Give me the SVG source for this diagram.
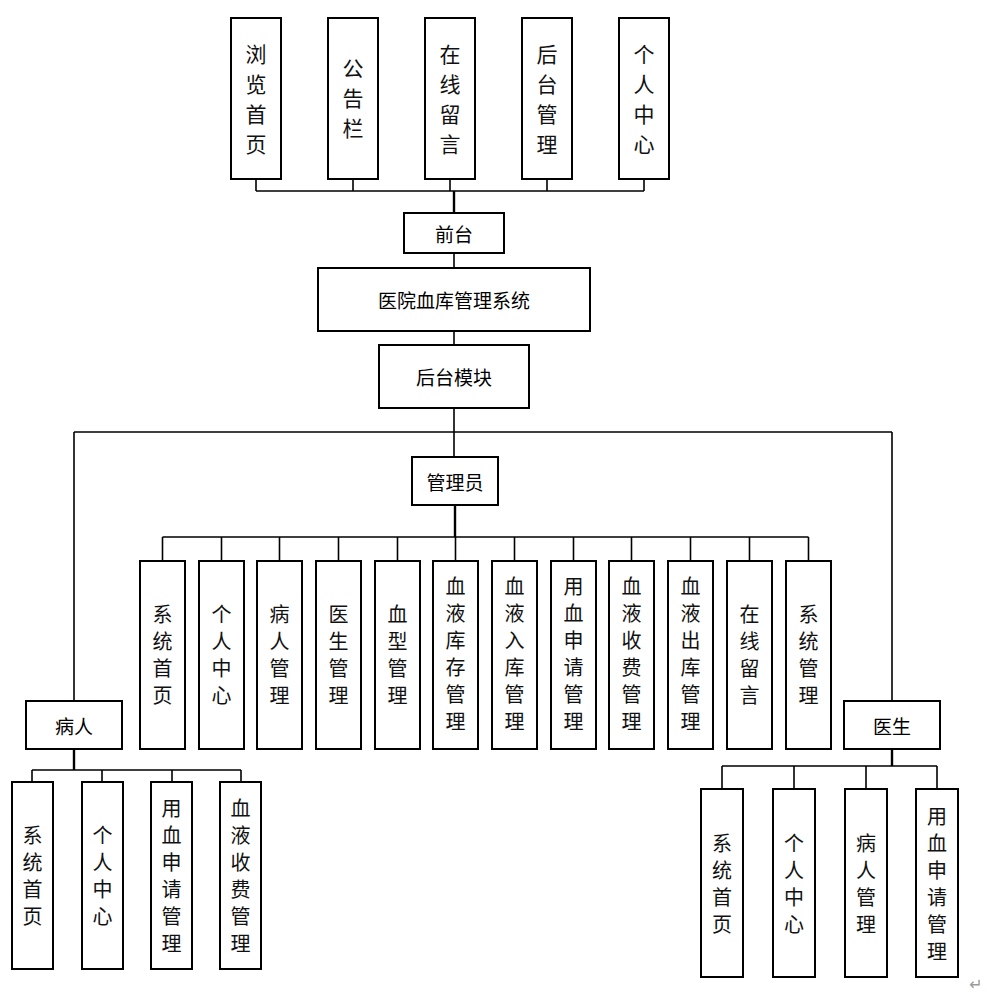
<svg xmlns="http://www.w3.org/2000/svg" width="987" height="998" viewBox="0 0 987 998">
<style>
.box{fill:#fff;stroke:#000;stroke-width:2}
.ln{fill:none;stroke:#000;stroke-width:1.6}
.tk{fill:none;stroke:#000;stroke-width:2.4}
.h{font-family:"Noto Sans CJK SC","Noto Sans",sans-serif;font-size:19px;fill:#000;text-anchor:middle;dominant-baseline:central}
.v{font-family:"Noto Sans CJK SC","Noto Sans",sans-serif;font-size:20px;fill:#111;text-anchor:middle;dominant-baseline:central}
.vt{font-family:"Noto Sans CJK SC","Noto Sans",sans-serif;font-size:21px;fill:#111;text-anchor:middle;dominant-baseline:central}
</style>
<rect width="987" height="998" fill="#fff"/>
<g id="connectors">
<path class="ln" d="M256 179V191M353 179V191M450 179V191M547 179V191M644 179V191M256 191H644"/>
<path class="tk" d="M454 191V213"/>
<path class="ln" d="M454 253V268M454 331V345M454 408V457M74 432H892M74 432V701M892 432V701"/>
<path class="tk" d="M455 505V537"/>
<path class="ln" d="M162.5 537H808.5M162.5 537V561M221.5 537V561M279.5 537V561M338.5 537V561M397.5 537V561M455.5 537V561M514.5 537V561M573.5 537V561M631.5 537V561M690.5 537V561M749.5 537V561M808.5 537V561"/>
<path class="tk" d="M74 749V770M892 749V766"/>
<path class="ln" d="M32 770H241M32 770V782M102 770V782M172 770V782M241 770V782"/>
<path class="ln" d="M722 766H937M722 766V789M794 766V789M866 766V789M937 766V789"/>
</g>
<g id="top1"><rect class="box" x="231" y="18" width="50" height="161"/><text class="vt"><tspan x="256" y="53">浏</tspan><tspan x="256" y="83">览</tspan><tspan x="256" y="113">首</tspan><tspan x="256" y="143">页</tspan></text></g>
<g id="top2"><rect class="box" x="328" y="18" width="50" height="161"/><text class="vt"><tspan x="353" y="67">公</tspan><tspan x="353" y="97">告</tspan><tspan x="353" y="127">栏</tspan></text></g>
<g id="top3"><rect class="box" x="425" y="18" width="50" height="161"/><text class="vt"><tspan x="450" y="53">在</tspan><tspan x="450" y="83">线</tspan><tspan x="450" y="113">留</tspan><tspan x="450" y="143">言</tspan></text></g>
<g id="top4"><rect class="box" x="522" y="18" width="50" height="161"/><text class="vt"><tspan x="547" y="53">后</tspan><tspan x="547" y="83">台</tspan><tspan x="547" y="113">管</tspan><tspan x="547" y="143">理</tspan></text></g>
<g id="top5"><rect class="box" x="619" y="18" width="50" height="161"/><text class="vt"><tspan x="644" y="53">个</tspan><tspan x="644" y="83">人</tspan><tspan x="644" y="113">中</tspan><tspan x="644" y="143">心</tspan></text></g>
<g id="qiantai"><rect class="box" x="404" y="213" width="100" height="40"/><text class="h" x="454" y="233">前台</text></g>
<g id="system"><rect class="box" x="318" y="268" width="272" height="63"/><text class="h" x="454" y="299">医院血库管理系统</text></g>
<g id="houtai"><rect class="box" x="379" y="345" width="150" height="63"/><text class="h" x="454" y="376">后台模块</text></g>
<g id="admin"><rect class="box" x="412" y="457" width="86" height="48"/><text class="h" x="455" y="481">管理员</text></g>
<g id="patient"><rect class="box" x="26" y="701" width="96" height="48"/><text class="h" x="74" y="725">病人</text></g>
<g id="doctor"><rect class="box" x="844" y="701" width="96" height="48"/><text class="h" x="892" y="725">医生</text></g>
<g id="a1"><rect class="box" x="140" y="561" width="45" height="188"/><text class="v"><tspan x="162.5" y="613">系</tspan><tspan x="162.5" y="640">统</tspan><tspan x="162.5" y="667">首</tspan><tspan x="162.5" y="694">页</tspan></text></g>
<g id="a2"><rect class="box" x="199" y="561" width="45" height="188"/><text class="v"><tspan x="221.5" y="613">个</tspan><tspan x="221.5" y="640">人</tspan><tspan x="221.5" y="667">中</tspan><tspan x="221.5" y="694">心</tspan></text></g>
<g id="a3"><rect class="box" x="257" y="561" width="45" height="188"/><text class="v"><tspan x="279.5" y="613">病</tspan><tspan x="279.5" y="640">人</tspan><tspan x="279.5" y="667">管</tspan><tspan x="279.5" y="694">理</tspan></text></g>
<g id="a4"><rect class="box" x="316" y="561" width="45" height="188"/><text class="v"><tspan x="338.5" y="613">医</tspan><tspan x="338.5" y="640">生</tspan><tspan x="338.5" y="667">管</tspan><tspan x="338.5" y="694">理</tspan></text></g>
<g id="a5"><rect class="box" x="375" y="561" width="45" height="188"/><text class="v"><tspan x="397.5" y="613">血</tspan><tspan x="397.5" y="640">型</tspan><tspan x="397.5" y="667">管</tspan><tspan x="397.5" y="694">理</tspan></text></g>
<g id="a6"><rect class="box" x="433" y="561" width="45" height="188"/><text class="v"><tspan x="455.5" y="585">血</tspan><tspan x="455.5" y="612">液</tspan><tspan x="455.5" y="639">库</tspan><tspan x="455.5" y="666">存</tspan><tspan x="455.5" y="693">管</tspan><tspan x="455.5" y="720">理</tspan></text></g>
<g id="a7"><rect class="box" x="492" y="561" width="45" height="188"/><text class="v"><tspan x="514.5" y="585">血</tspan><tspan x="514.5" y="612">液</tspan><tspan x="514.5" y="639">入</tspan><tspan x="514.5" y="666">库</tspan><tspan x="514.5" y="693">管</tspan><tspan x="514.5" y="720">理</tspan></text></g>
<g id="a8"><rect class="box" x="551" y="561" width="45" height="188"/><text class="v"><tspan x="573.5" y="585">用</tspan><tspan x="573.5" y="612">血</tspan><tspan x="573.5" y="639">申</tspan><tspan x="573.5" y="666">请</tspan><tspan x="573.5" y="693">管</tspan><tspan x="573.5" y="720">理</tspan></text></g>
<g id="a9"><rect class="box" x="609" y="561" width="45" height="188"/><text class="v"><tspan x="631.5" y="585">血</tspan><tspan x="631.5" y="612">液</tspan><tspan x="631.5" y="639">收</tspan><tspan x="631.5" y="666">费</tspan><tspan x="631.5" y="693">管</tspan><tspan x="631.5" y="720">理</tspan></text></g>
<g id="a10"><rect class="box" x="668" y="561" width="45" height="188"/><text class="v"><tspan x="690.5" y="585">血</tspan><tspan x="690.5" y="612">液</tspan><tspan x="690.5" y="639">出</tspan><tspan x="690.5" y="666">库</tspan><tspan x="690.5" y="693">管</tspan><tspan x="690.5" y="720">理</tspan></text></g>
<g id="a11"><rect class="box" x="727" y="561" width="45" height="188"/><text class="v"><tspan x="749.5" y="613">在</tspan><tspan x="749.5" y="640">线</tspan><tspan x="749.5" y="667">留</tspan><tspan x="749.5" y="694">言</tspan></text></g>
<g id="a12"><rect class="box" x="786" y="561" width="45" height="188"/><text class="v"><tspan x="808.5" y="613">系</tspan><tspan x="808.5" y="640">统</tspan><tspan x="808.5" y="667">管</tspan><tspan x="808.5" y="694">理</tspan></text></g>
<g id="p1"><rect class="box" x="12" y="782" width="41" height="187"/><text class="v"><tspan x="32.5" y="834">系</tspan><tspan x="32.5" y="861">统</tspan><tspan x="32.5" y="888">首</tspan><tspan x="32.5" y="915">页</tspan></text></g>
<g id="p2"><rect class="box" x="82" y="782" width="41" height="187"/><text class="v"><tspan x="102.5" y="834">个</tspan><tspan x="102.5" y="861">人</tspan><tspan x="102.5" y="888">中</tspan><tspan x="102.5" y="915">心</tspan></text></g>
<g id="p3"><rect class="box" x="151" y="782" width="41" height="187"/><text class="v"><tspan x="171.5" y="807">用</tspan><tspan x="171.5" y="834">血</tspan><tspan x="171.5" y="861">申</tspan><tspan x="171.5" y="888">请</tspan><tspan x="171.5" y="915">管</tspan><tspan x="171.5" y="942">理</tspan></text></g>
<g id="p4"><rect class="box" x="220" y="782" width="41" height="187"/><text class="v"><tspan x="240.5" y="807">血</tspan><tspan x="240.5" y="834">液</tspan><tspan x="240.5" y="861">收</tspan><tspan x="240.5" y="888">费</tspan><tspan x="240.5" y="915">管</tspan><tspan x="240.5" y="942">理</tspan></text></g>
<g id="d1"><rect class="box" x="701" y="789" width="42" height="188"/><text class="v"><tspan x="722" y="842">系</tspan><tspan x="722" y="869">统</tspan><tspan x="722" y="896">首</tspan><tspan x="722" y="923">页</tspan></text></g>
<g id="d2"><rect class="box" x="773" y="789" width="42" height="188"/><text class="v"><tspan x="794" y="842">个</tspan><tspan x="794" y="869">人</tspan><tspan x="794" y="896">中</tspan><tspan x="794" y="923">心</tspan></text></g>
<g id="d3"><rect class="box" x="845" y="789" width="42" height="188"/><text class="v"><tspan x="866" y="842">病</tspan><tspan x="866" y="869">人</tspan><tspan x="866" y="896">管</tspan><tspan x="866" y="923">理</tspan></text></g>
<g id="d4"><rect class="box" x="916" y="789" width="42" height="188"/><text class="v"><tspan x="937" y="815">用</tspan><tspan x="937" y="842">血</tspan><tspan x="937" y="869">申</tspan><tspan x="937" y="896">请</tspan><tspan x="937" y="923">管</tspan><tspan x="937" y="950">理</tspan></text></g>
<text x="976" y="984" font-family="'DejaVu Sans',sans-serif" font-size="16" fill="#999" text-anchor="middle" dominant-baseline="central">↵</text>
</svg>
